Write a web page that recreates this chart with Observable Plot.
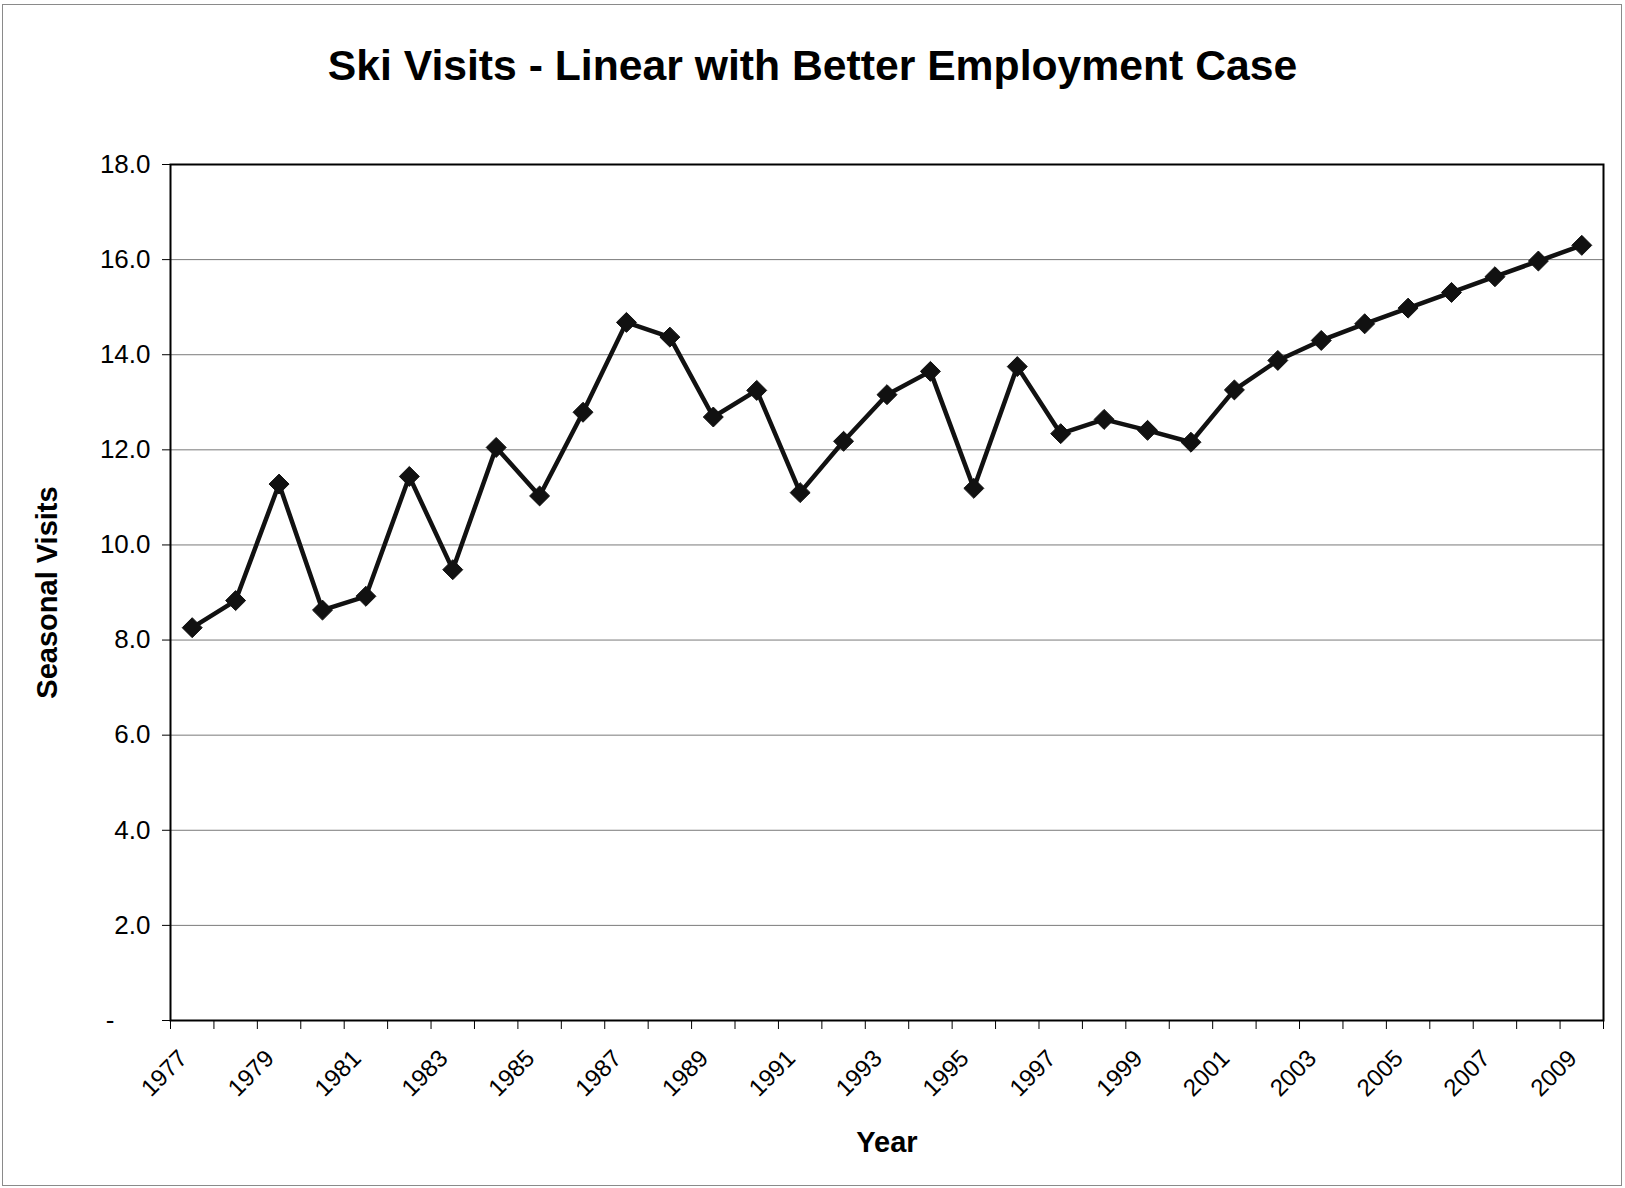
<!DOCTYPE html>
<html>
<head>
<meta charset="utf-8">
<script src="https://cdn.jsdelivr.net/npm/d3@7"></script>
<script src="https://cdn.jsdelivr.net/npm/@observablehq/plot@0.6"></script>
<style>
  html, body { margin: 0; padding: 0; background: #fff; }
  #page { position: relative; width: 1625px; height: 1188px; overflow: hidden;
          font-family: "Liberation Sans", Arial, sans-serif; color: #000; }
  #border { position: absolute; left: 2px; top: 4px; width: 1620px; height: 1182px;
            border: 1px solid #8a8a8a; box-sizing: border-box; }
  #title { position: absolute; left: 0; top: 44px; width: 1625px; text-align: center;
           font-weight: bold; font-size: 42.7px; line-height: 43px; }
  #chart { position: absolute; left: 0; top: 120px; }
</style>
</head>
<body>
<div id="page">
  <div id="border"></div>
  <div id="title">Ski Visits - Linear with Better Employment Case</div>
  <div id="chart"></div>
</div>
<script>
// Seasonal ski visits per year
const years = [1977, 1978, 1979, 1980, 1981, 1982, 1983, 1984, 1985, 1986, 1987,
               1988, 1989, 1990, 1991, 1992, 1993, 1994, 1995, 1996, 1997, 1998,
               1999, 2000, 2001, 2002, 2003, 2004, 2005, 2006, 2007, 2008, 2009];
const visits = [8.26, 8.83, 11.28, 8.63, 8.92, 11.44, 9.48, 12.05, 11.03, 12.79, 14.68,
                14.37, 12.69, 13.25, 11.10, 12.18, 13.16, 13.65, 11.19, 13.75, 12.34, 12.64,
                12.41, 12.16, 13.26, 13.88, 14.30, 14.65, 14.98, 15.31, 15.64, 15.97, 16.30];
const yTicks = [0, 2, 4, 6, 8, 10, 12, 14, 16, 18];
const labeledYears = [1977, 1979, 1981, 1983, 1985, 1987, 1989, 1991, 1993,
                      1995, 1997, 1999, 2001, 2003, 2005, 2007, 2009];

const data = years.map((year, i) => ({year, visits: visits[i]}));
// category boundaries: tick marks sit between the years
const boundaries = [...years.map(y => y - 0.5), years[years.length - 1] + 0.5];

const chart = Plot.plot({
  width: 1625,
  height: 1068,
  marginTop: 44,
  marginBottom: 168,
  marginLeft: 170,
  marginRight: 22,
  style: {fontFamily: "'Liberation Sans', Arial, sans-serif", fontSize: "26px", color: "#000", background: "transparent"},
  x: {type: "linear", domain: [years[0] - 0.5, years[years.length - 1] + 0.5]},
  y: {domain: [0, 18]},
  marks: [
    Plot.gridY(yTicks, {stroke: "#7a7a7a", strokeOpacity: 1, strokeWidth: 1}),
    Plot.axisY(yTicks, {
      tickSize: 8, tickPadding: 12, fontSize: 26,
      tickFormat: v => v === 0 ? "-\u2008\u2007\u2007" : v.toFixed(1),
      label: "Seasonal Visits", labelAnchor: "center", labelArrow: "none", labelOffset: 134
    }),
    Plot.axisX(boundaries, {tickSize: 9, tickFormat: () => "", label: null}),
    Plot.axisX(labeledYears, {
      tickSize: 0, tickPadding: 34, tickRotate: -45, fontSize: 24, dx: -9,
      tickFormat: d => String(d),
      label: "Year", labelAnchor: "center", labelArrow: "none", labelOffset: 131
    }),
    Plot.frame({stroke: "#000", strokeWidth: 2}),
    Plot.line(data, {x: "year", y: "visits", stroke: "#111", strokeWidth: 4.5}),
    Plot.dot(data, {x: "year", y: "visits", symbol: "diamond2", r: 9, fill: "#111", stroke: "#111", strokeWidth: 1})
  ]
});

// axis titles are bold and a little larger than the tick labels
d3.select(chart).selectAll('g[aria-label="y-axis label"], g[aria-label="x-axis label"]')
  .attr("font-weight", "bold")
  .attr("font-size", 29);

document.getElementById("chart").appendChild(chart);
</script>
</body>
</html>
